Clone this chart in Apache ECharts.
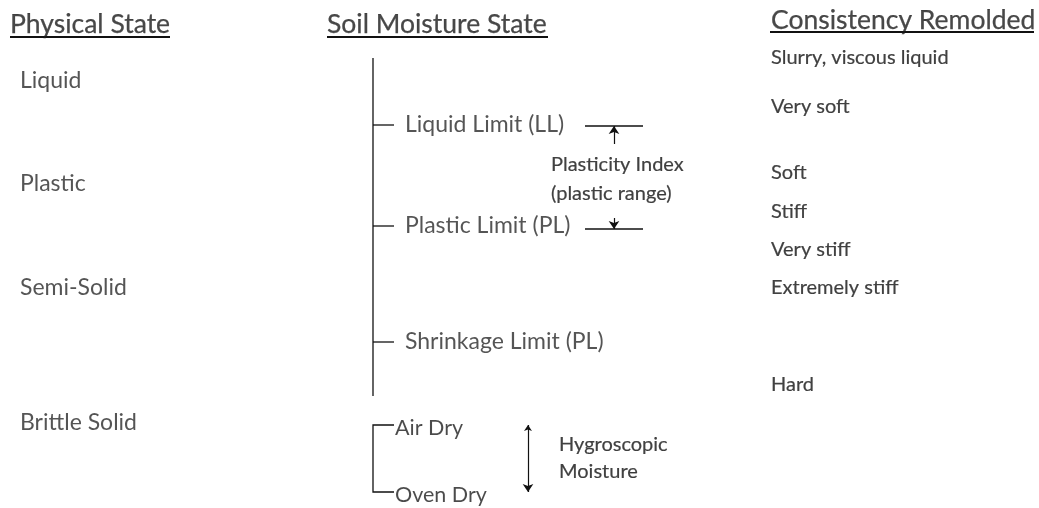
<!DOCTYPE html>
<html>
<head>
<meta charset="utf-8">
<script src="https://cdn.jsdelivr.net/npm/echarts@6/dist/echarts.min.js"></script>
<style>
html,body{margin:0;padding:0;background:#fff;}
#chart{width:1039px;height:508px;}
</style>
</head>
<body>
<div id="chart"></div>
<script>
// ---- content (text) ----
const headers = ['Physical State', 'Soil Moisture State', 'Consistency Remolded'];
const physicalStates = ['Liquid', 'Plastic', 'Semi-Solid', 'Brittle Solid'];
const moistureLimits = ['Liquid Limit (LL)', 'Plastic Limit (PL)', 'Shrinkage Limit (PL)'];
const dryStates = ['Air Dry', 'Oven Dry'];
const consistencies = ['Slurry, viscous liquid', 'Very soft', 'Soft', 'Stiff', 'Very stiff', 'Extremely stiff', 'Hard'];
const plasticityLabel = ['Plasticity Index', '(plastic range)'];
const hygroLabel = ['Hygroscopic', 'Moisture'];

// ---- vertical levels (moisture scale, top = wet) ----
const headerLevels = [24, 24, 20];
const physicalLevels = [81, 184, 288, 423];
const limitLevels = [125, 226, 342];
const dryLevels = [428, 495];
const consistencyLevels = [58, 107, 173, 212, 250, 288, 385];
const plasticityLevels = [165, 194];
const hygroLevels = [445, 472];
const moistureRange = [58, 396];
const dryRange = [425, 492];

// ---- layout ----
const colX = { phys: 20, header1: 10, header2: 327, header3: 771, stem: 373, tickEnd: 394, limitText: 405,
  dryText: 395, piLineStart: 585, piLineEnd: 643, piArrow: 614, piText: 551, hygArrow: 528, hygText: 559, cons: 771 };
const headerUnderline = [[10, 170, 37], [327, 548, 37], [770, 1034, 32]];

const fontFam = 'Lato, "Open Sans", sans-serif';

function textSeries(names, xs, ys, size, color, border) {
  return {
    type: 'scatter', symbolSize: 0, silent: true,
    data: names.map((n, i) => ({ name: n, value: [Array.isArray(xs) ? xs[i] : xs, ys[i]] })),
    label: { show: true, position: 'right', distance: 0, formatter: p => p.name,
      color: color, fontSize: size, fontFamily: fontFam,
      textBorderColor: color, textBorderWidth: border }
  };
}

const underlineSegs = headerUnderline.map(u => ({ coords: [[u[0], u[2]], [u[1], u[2]]] }));

const segs = [];
// main stem
segs.push({ coords: [[colX.stem, moistureRange[0]], [colX.stem, moistureRange[1]]] });
// limit ticks
limitLevels.forEach(y => segs.push({ coords: [[colX.stem, y], [colX.tickEnd, y]] }));
// LL / PL side lines
segs.push({ coords: [[colX.piLineStart, limitLevels[0] + 1], [colX.piLineEnd, limitLevels[0] + 1]] });
segs.push({ coords: [[colX.piLineStart, limitLevels[1] + 3], [colX.piLineEnd, limitLevels[1] + 3]] });
// dry bracket
segs.push({ coords: [[colX.tickEnd, dryRange[0]], [colX.stem, dryRange[0]], [colX.stem, dryRange[1]], [colX.tickEnd, dryRange[1]]] });

const option = {
  animation: false,
  backgroundColor: '#ffffff',
  grid: { left: 0, right: 0, top: 0, bottom: 0 },
  xAxis: { type: 'value', min: 0, max: 1039, show: false },
  yAxis: { type: 'value', min: 0, max: 508, inverse: true, show: false },
  series: [
    textSeries(headers, [colX.header1, colX.header2, colX.header3], headerLevels, 26.5, '#1a1a1a', 0.25),
    textSeries(physicalStates, colX.phys, physicalLevels, 23, '#2b2b2b', 0),
    textSeries(moistureLimits, colX.limitText, limitLevels, 23, '#2b2b2b', 0),
    textSeries(dryStates, colX.dryText, dryLevels, 21.5, '#1e1e1e', 0),
    textSeries(consistencies, colX.cons, consistencyLevels, 20, '#111', 0.2),
    textSeries(plasticityLabel, colX.piText, plasticityLevels, 20, '#111', 0.2),
    textSeries(hygroLabel, colX.hygText, hygroLevels, 20, '#111', 0.2),
    {
      type: 'lines', coordinateSystem: 'cartesian2d', silent: true,
      lineStyle: { color: '#111', width: 2, opacity: 1 },
      data: underlineSegs
    },
    {
      type: 'lines', coordinateSystem: 'cartesian2d', silent: true,
      polyline: true,
      lineStyle: { color: '#111', width: 1.3, opacity: 1 },
      data: segs
    },
    {
      type: 'lines', coordinateSystem: 'cartesian2d', silent: true,
      symbol: ['none', 'arrow'], symbolSize: [6, 8],
      lineStyle: { color: '#111', width: 1.2, opacity: 1 },
      data: [
        { coords: [[colX.piArrow, 144], [colX.piArrow, limitLevels[0] + 1]] },
        { coords: [[colX.piArrow, 218], [colX.piArrow, limitLevels[1] + 3]] }
      ]
    },
    {
      type: 'lines', coordinateSystem: 'cartesian2d', silent: true,
      symbol: ['arrow', 'arrow'], symbolSize: [6, 8],
      lineStyle: { color: '#111', width: 1.2, opacity: 1 },
      data: [{ coords: [[colX.hygArrow, dryRange[0]], [colX.hygArrow, dryRange[1]]] }]
    }
  ]
};

const chart = echarts.init(document.getElementById('chart'), null, { renderer: 'canvas' });
chart.setOption(option);
</script>
</body>
</html>
